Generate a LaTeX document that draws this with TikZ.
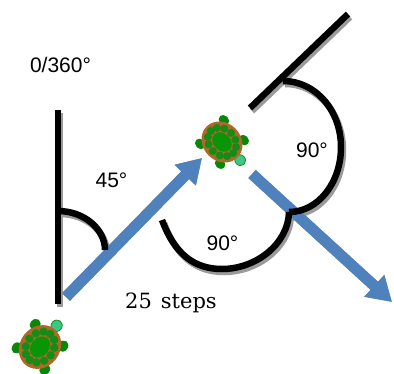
\documentclass[tikz,border=0pt]{standalone}
\usepackage{fontspec}
\setmainfont{Liberation Sans}
\newfontfamily\stepfont{DejaVu Serif}
\usetikzlibrary{arrows.meta}

\definecolor{arrowblue}{RGB}{79,129,189}
\definecolor{shadowgrey}{RGB}{155,155,155}
\definecolor{shellbrown}{RGB}{176,104,40}
\definecolor{shellgreen}{RGB}{8,150,8}
\definecolor{spotgreen}{RGB}{22,140,22}
\definecolor{leggreen}{RGB}{10,135,10}
\definecolor{headgreen}{RGB}{60,200,130}

\tikzset{
  markline/.style={line width=6.5pt, line cap=butt},
  blackmark/.style={markline, draw=black},
  greymark/.style={markline, draw=shadowgrey},
  movearrow/.style={line width=11pt, -{Triangle[width=28pt,length=24pt]}},
  anglelabel/.style={font=\fontsize{21}{21}\selectfont, inner sep=0pt, anchor=base},
  steplabel/.style={font=\stepfont\fontsize{21}{21}\selectfont, inner sep=0pt, anchor=base},
  turtle/.pic={
    % legs
    \foreach \a in {50,130,230,310}
      \fill[leggreen] (\a:23) ellipse[x radius=6, y radius=5];
    % head
    \fill[headgreen, draw=leggreen, line width=0.7pt] (27,0) ellipse[x radius=6, y radius=5.5];
    % shell
    \fill[shellbrown] (0,0) ellipse[x radius=23, y radius=20];
    \foreach \a in {0,30,...,330}
      \fill[spotgreen] ({16.5*cos(\a)},{13.5*sin(\a)}) circle[radius=4.2];
    \fill[shellgreen] (0,0) ellipse[x radius=11.5, y radius=9];
  }
}

% heading and turning marks, drawn once as shadow and once in black
\newcommand{\turnmarks}[1]{%
  \draw[#1] (58,110) -- (58,304);
  \draw[#1] (58,211) .. controls (84,211) and (105,229) .. (105,250);
  \draw[#1] (250,108) -- (348,14);
  \draw[#1] (283,81) .. controls (316,81) and (341,111) .. (341,147)
                     .. controls (341,183) and (318,212) .. (289,212);
  \draw[#1] (162,220) .. controls (175,255) and (195,269) .. (222,269)
                      .. controls (255,269) and (288,245) .. (289,212);
}

\begin{document}
\begin{tikzpicture}[x=1pt, y=-1pt]
  \useasboundingbox (0,0) rectangle (394,373);

  % turtle positions and move end points
  \coordinate (t1) at (40,347);
  \coordinate (t2) at (222,142);
  \coordinate (m1start) at (66,297);
  \coordinate (m1end) at (202,158);
  \coordinate (m2start) at (252,174);
  \coordinate (m2end) at (392,302);

  % shadows
  \begin{scope}[shift={(2,3)}]
    \turnmarks{greymark}
    \draw[movearrow, shadowgrey] (m1start) -- (m1end);
    \draw[movearrow, shadowgrey] (m2start) -- (m2end);
  \end{scope}

  % moves
  \draw[movearrow, arrowblue] (m1start) -- (m1end);
  \draw[movearrow, arrowblue] (m2start) -- (m2end);

  % headings and turns
  \turnmarks{blackmark}

  % turtles
  \pic[rotate=52] at (t1) {turtle};
  \pic[rotate=-45, scale=0.95] at (t2) {turtle};

  % labels
  \node[anglelabel] (north) at (60.5,72) {0/360°};
  \node[anglelabel] (turn45) at (111.5,187) {45°};
  \node[anglelabel] (turn90a) at (312,157) {90°};
  \node[anglelabel] (turn90b) at (222.5,250) {90°};
  \node[steplabel] (steps) at (171,308) {25\hspace{9pt}steps};
\end{tikzpicture}
\end{document}
